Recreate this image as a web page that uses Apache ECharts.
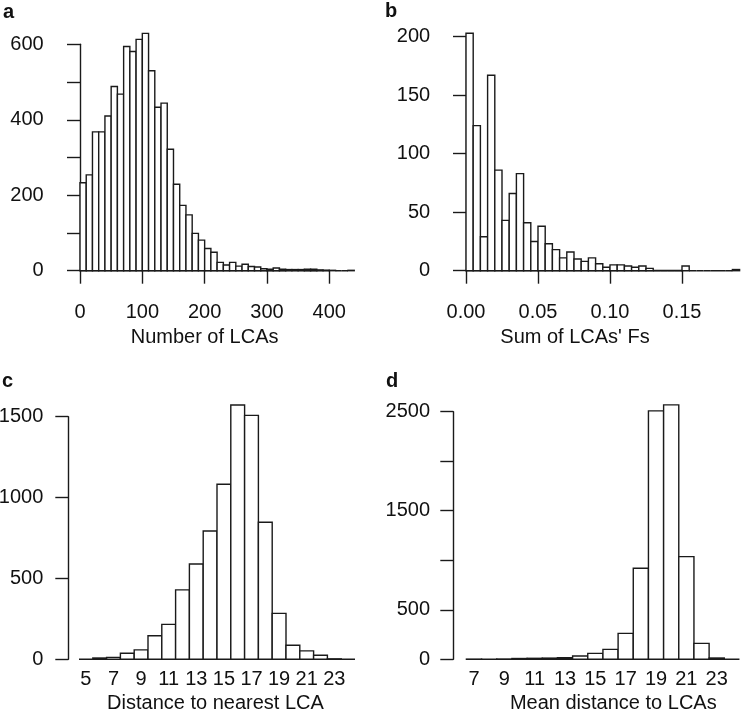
<!DOCTYPE html>
<html>
<head>
<meta charset="utf-8">
<script src="https://cdn.jsdelivr.net/npm/echarts@6/dist/echarts.min.js"></script>
<style>html,body{margin:0;padding:0;background:#fff}#c{width:743px;height:720px}</style>
</head>
<body>
<div id="c"></div>
<script>
// ---- data ----
// a: Number of LCAs, bins of width 10 starting at 0
const aBinStart = 0, aBinWidth = 10;
const aCounts = [233, 254, 368, 368, 410, 488, 468, 594, 581, 613, 629, 530, 433, 444, 322, 229, 173, 148, 99, 81, 59, 49, 22, 15, 22, 12, 17, 11, 10, 5, 4, 7, 4, 3, 3, 3, 4, 4, 2, 1, 1, 0, 0, 1];
const aYTicks = [0, 200, 400, 600];
// b: Sum of LCAs' Fs, bins of width 0.005 starting at 0
const bBinStart = 0, bBinWidth = 0.005;
const bCounts = [203, 124, 29, 167, 86, 43, 66, 83, 41, 25, 38, 23, 18, 11, 16, 10, 8, 11, 6, 3, 5, 5, 4, 3, 4, 2, 0, 0, 0, 0, 4, 0, 0, 0, 0, 0, 0, 1];
const bYTicks = [0, 50, 100, 150, 200];
// c: Distance to nearest LCA, integer bins 5..24
const cBinStart = 4.5, cBinWidth = 1;
const cCounts = [0, 8, 12, 37, 58, 146, 216, 429, 589, 793, 1082, 1572, 1508, 847, 284, 87, 52, 25, 3, 0];
const cYTicks = [0, 500, 1000, 1500];
// d: Mean distance to LCAs, integer bins 7..24
const dBinStart = 6.5, dBinWidth = 1;
const dCounts = [2, 1, 3, 8, 10, 12, 15, 33, 60, 100, 262, 919, 2508, 2569, 1037, 161, 13, 0];
const dYTicks = [0, 500, 1500, 2500];

const titles = ['Number of LCAs', "Sum of LCAs' Fs", 'Distance to nearest LCA', 'Mean distance to LCAs'];
const letters = ['a', 'b', 'c', 'd'];

function toBins(start, width, counts) {
  return counts.map((v, i) => [start + i * width, start + (i + 1) * width, v]);
}

const FONT = 'Liberation Sans, Arial, Helvetica, sans-serif';
const INK = '#1a1a1a';
const LW = 1.4;

function renderBar(params, api) {
  const p0 = api.coord([api.value(0), 0]);
  const p1 = api.coord([api.value(1), api.value(2)]);
  return {
    type: 'rect',
    shape: { x: p0[0], y: p1[1], width: p1[0] - p0[0], height: p0[1] - p1[1] },
    style: { fill: '#fff', stroke: INK, lineWidth: LW }
  };
}

function yAxis(gridIndex, max, interval, offset, margin, shown) {
  return {
    type: 'value', gridIndex, min: 0, max, interval, offset,
    splitLine: { show: false },
    axisLine: { show: true, lineStyle: { color: INK, width: LW } },
    axisTick: { show: true, length: 13, lineStyle: { color: INK, width: LW } },
    axisLabel: { margin, fontSize: 20, fontFamily: FONT, color: '#111',
      formatter: v => shown.includes(Math.round(v)) ? String(Math.round(v)) : '' }
  };
}

const chart = echarts.init(document.getElementById('c'), null, { renderer: 'canvas' });

const option = {
  animation: false,
  backgroundColor: '#fff',
  grid: [
    { left: 80, top: 44.3, width: 249.3, height: 226.4, outerBoundsMode: 'none', containLabel: false },
    { left: 466, top: 36.7, width: 216, height: 234, outerBoundsMode: 'none', containLabel: false },
    { left: 85.9, top: 416.7, width: 248.4, height: 242.6, outerBoundsMode: 'none', containLabel: false },
    { left: 474, top: 411.7, width: 242.7, height: 247.6, outerBoundsMode: 'none', containLabel: false }
  ],
  xAxis: [
    { type: 'value', gridIndex: 0, min: 0, max: 400, interval: 100, offset: 9.3,
      splitLine: { show: false },
      axisLine: { show: true, lineStyle: { color: INK, width: LW } },
      axisTick: { show: true, length: 13, lineStyle: { color: INK, width: LW } },
      axisLabel: { margin: 22, fontSize: 20, fontFamily: FONT, color: '#111' } },
    { type: 'value', gridIndex: 1, min: 0, max: 0.15, interval: 0.05, offset: 9.3,
      splitLine: { show: false },
      axisLine: { show: true, lineStyle: { color: INK, width: LW } },
      axisTick: { show: true, length: 13, lineStyle: { color: INK, width: LW } },
      axisLabel: { margin: 22, fontSize: 20, fontFamily: FONT, color: '#111', formatter: v => v.toFixed(2) } },
    { type: 'value', gridIndex: 2, min: 5, max: 23, interval: 2,
      splitLine: { show: false }, axisLine: { show: false }, axisTick: { show: false },
      axisLabel: { margin: 10, fontSize: 20, fontFamily: FONT, color: '#111' } },
    { type: 'value', gridIndex: 3, min: 7, max: 23, interval: 2,
      splitLine: { show: false }, axisLine: { show: false }, axisTick: { show: false },
      axisLabel: { margin: 10, fontSize: 20, fontFamily: FONT, color: '#111' } }
  ],
  yAxis: [
    yAxis(0, 600, 100, 11.3, 25, aYTicks),
    yAxis(1, 200, 50, 13.3, 22.5, bYTicks),
    yAxis(2, 1500, 500, 17.6, 25, cYTicks),
    yAxis(3, 2500, 500, 20.7, 23.3, dYTicks)
  ],
  series: [
    { type: 'custom', xAxisIndex: 0, yAxisIndex: 0, clip: false, renderItem: renderBar, data: toBins(aBinStart, aBinWidth, aCounts) },
    { type: 'custom', xAxisIndex: 1, yAxisIndex: 1, clip: false, renderItem: renderBar, data: toBins(bBinStart, bBinWidth, bCounts) },
    { type: 'custom', xAxisIndex: 2, yAxisIndex: 2, clip: false, renderItem: renderBar, data: toBins(cBinStart, cBinWidth, cCounts) },
    { type: 'custom', xAxisIndex: 3, yAxisIndex: 3, clip: false, renderItem: renderBar, data: toBins(dBinStart, dBinWidth, dCounts) }
  ],
  graphic: [
    { type: 'text', x: 3, y: 12, style: { text: letters[0], font: 'bold 20px ' + FONT, fill: '#111', verticalAlign: 'middle' } },
    { type: 'text', x: 385, y: 11, style: { text: letters[1], font: 'bold 20px ' + FONT, fill: '#111', verticalAlign: 'middle' } },
    { type: 'text', x: 2, y: 381, style: { text: letters[2], font: 'bold 20px ' + FONT, fill: '#111', verticalAlign: 'middle' } },
    { type: 'text', x: 386, y: 381, style: { text: letters[3], font: 'bold 20px ' + FONT, fill: '#111', verticalAlign: 'middle' } },
    { type: 'text', x: 204.6, y: 337, style: { text: titles[0], font: '20px ' + FONT, fill: '#111', align: 'center', verticalAlign: 'middle' } },
    { type: 'text', x: 575, y: 337, style: { text: titles[1], font: '20px ' + FONT, fill: '#111', align: 'center', verticalAlign: 'middle' } },
    { type: 'text', x: 215.5, y: 703, style: { text: titles[2], font: '20px ' + FONT, fill: '#111', align: 'center', verticalAlign: 'middle' } },
    { type: 'text', x: 613.3, y: 703, style: { text: titles[3], font: '20px ' + FONT, fill: '#111', align: 'center', verticalAlign: 'middle' } }
  ]
};
chart.setOption(option);
</script>
</body>
</html>
